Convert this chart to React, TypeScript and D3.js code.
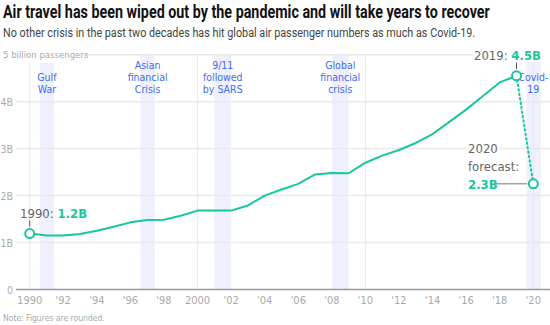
import React, { useRef, useLayoutEffect, useState } from "react";
import * as d3 from "d3";

const years = d3.range(1990, 2020);
const passengers = [1.19, 1.15, 1.15, 1.18, 1.25, 1.335, 1.43, 1.48, 1.485, 1.57, 1.68, 1.68, 1.68, 1.79, 2.0, 2.13, 2.25, 2.45, 2.48, 2.475, 2.7, 2.85, 2.97, 3.12, 3.31, 3.57, 3.83, 4.12, 4.41, 4.55];
const forecastYear = 2020;
const forecastValue = 2.25;
const yTicks = [0, 1, 2, 3, 4];
const xTicks = d3.range(1990, 2021, 2);
const bandStarts = [1990.6, 1996.6, 2001, 2008, 2019.6];
const bandEnds = [1991.45, 1997.45, 2002, 2009, 2020.45];
const bandLabels = [["Gulf", "War"], ["Asian", "financial", "Crisis"], ["9/11", "followed", "by SARS"], ["Global", "financial", "crisis"], ["Covid-", "19"]];
const titleText = "Air travel has been wiped out by the pandemic and will take years to recover";
const subtitleText = "No other crisis in the past two decades has hit global air passenger numbers as much as Covid-19.";

const GREEN = "#16c79d";
const BLUE = "#3f6cf0";
const BAND = "#eef0fd";
const GRID = "#e9e9e9";
const LIGHT = "#a9a9a9";
const FONT = "'Liberation Sans Narrow', 'DejaVu Sans Condensed', Roboto, sans-serif";

const fmtTick = (yr: number) => (yr === 1990 || yr === 2000 ? String(yr) : "'" + String(yr).slice(2));

function FitText({ x, y, width, children, ...rest }: any) {
  const ref = useRef<SVGTextElement>(null);
  const [s, setS] = useState(1);
  useLayoutEffect(() => {
    if (ref.current) {
      const w = ref.current.getComputedTextLength();
      if (w > 0) setS(width / w);
    }
  }, [width]);
  return (
    <text ref={ref} transform={`translate(${x},${y}) scale(${s},1)`} {...rest}>
      {children}
    </text>
  );
}

export default function App() {
  const W = 550, H = 325;
  const x = d3.scaleLinear().domain([1990, 2020]).range([29.7, 533.3]);
  const y = d3.scaleLinear().domain([0, 5]).range([289.5, 54.7]);
  const line = d3.line<number>().x((_, i) => x(years[i])).y((d) => y(d));
  const lastY = years[years.length - 1];
  const lastV = passengers[passengers.length - 1];
  const halo = { stroke: "#fff", strokeWidth: 5, paintOrder: "stroke" as const, strokeLinejoin: "round" as const };

  return (
    <svg width={W} height={H} style={{ position: "absolute", left: 0, top: 0, background: "#fff" }} fontFamily={FONT}>
      {/* title */}
      <FitText x={3} y={18} width={487} fontFamily="Roboto, sans-serif" fontWeight={700} fontSize={17.5} fill="#111">
        {titleText}
      </FitText>
      <FitText x={3} y={36.5} width={473} fontFamily="Roboto, sans-serif" fontSize={13} fill="#444">
        {subtitleText}
      </FitText>

      {/* bands */}
      {bandStarts.map((s, i) => {
        const top = i === 0 ? 63 : i === 4 ? 60 : y(5);
        return <rect key={"b" + i} x={x(s)} width={x(bandEnds[i]) - x(s)} y={top} height={y(0) - top} fill={BAND} />;
      })}

      {/* horizontal grid */}
      {yTicks.filter((t) => t > 0).map((t) => (
        <line key={"g" + t} x1={16} x2={W} y1={y(t)} y2={y(t)} stroke={GRID} strokeWidth={1.5} />
      ))}
      <line x1={83} x2={483} y1={y(5)} y2={y(5)} stroke={GRID} strokeWidth={1.5} />

      {/* vertical grid */}
      {[1990, 2000, 2010, 2020].map((yr) => (
        <line key={"v" + yr} x1={x(yr)} x2={x(yr)} y1={yr === 1990 ? 63 : yr === 2020 ? 60 : y(5)} y2={y(0)} stroke={GRID} strokeWidth={1} />
      ))}

      {/* y labels */}
      {yTicks.map((t) => (
        <text key={"yl" + t} x={13} y={y(t)} dominantBaseline="central" textAnchor="end" fontSize={10.5} fill={LIGHT}>
          {t === 0 ? "0" : t + "B"}
        </text>
      ))}
      <text x={3} y={y(5)} dominantBaseline="central" fontSize={9.5} fill={LIGHT}>5 billion passengers</text>

      {/* x axis */}
      <line x1={16} x2={W} y1={y(0)} y2={y(0)} stroke="#999" strokeWidth={1.5} />
      {xTicks.map((t) => (
        <text key={"xt" + t} x={x(t)} y={300} dominantBaseline="central" textAnchor="middle" fontSize={11} fill={LIGHT}>
          {fmtTick(t)}
        </text>
      ))}

      {/* band labels */}
      {bandLabels.map((lines, i) => (
        <text key={"bl" + i} textAnchor="middle" fontSize={10.5} fontWeight={500} fill={BLUE}>
          {lines.map((ln, j) => (
            <tspan key={j} x={i === 4 ? x(2020) : (x(bandStarts[i]) + x(bandEnds[i])) / 2} y={89 - (lines.length - 1 - j) * 11.8} dominantBaseline="central">
              {ln}
            </tspan>
          ))}
        </text>
      ))}

      {/* main line */}
      <path d={line(passengers) || ""} fill="none" stroke={GREEN} strokeWidth={2} strokeLinejoin="round" />
      <line x1={x(lastY)} y1={y(lastV)} x2={x(forecastYear)} y2={y(forecastValue)} stroke={GREEN} strokeWidth={2} strokeDasharray="1.5 3" strokeLinecap="round" />

      {/* 1990 annotation */}
      <line x1={x(1990)} x2={x(1990)} y1={220.5} y2={226.5} stroke="#555" strokeWidth={1} />
      <text x={20} y={213} dominantBaseline="central" fontSize={13}>
        <tspan fill="#666">1990: </tspan>
        <tspan fill={GREEN} fontWeight={700}>1.2B</tspan>
      </text>
      <circle cx={x(1990)} cy={y(passengers[0])} r={4.5} fill="#fff" stroke={GREEN} strokeWidth={2} />

      {/* 2019 annotation */}
      <line x1={x(lastY)} x2={x(lastY)} y1={61.5} y2={69} stroke="#555" strokeWidth={1} />
      <text x={541} y={54.5} dominantBaseline="central" textAnchor="end" fontSize={13} {...halo}>
        <tspan fill="#666">2019: </tspan>
        <tspan fill={GREEN} fontWeight={700}>4.5B</tspan>
      </text>
      <circle cx={x(lastY)} cy={y(lastV)} r={4.5} fill="#fff" stroke={GREEN} strokeWidth={2} />

      {/* 2020 annotation */}
      <text x={468} fontSize={13} {...halo}>
        <tspan x={468} y={148.3} dominantBaseline="central" fill="#666">2020</tspan>
        <tspan x={468} y={166.7} dominantBaseline="central" fill="#666">forecast:</tspan>
        <tspan x={468} y={184} dominantBaseline="central" fill={GREEN} fontWeight={700}>2.3B</tspan>
      </text>
      <line x1={496} x2={527} y1={y(forecastValue)} y2={y(forecastValue)} stroke="#777" strokeWidth={1} />
      <circle cx={x(forecastYear)} cy={y(forecastValue)} r={4.5} fill="#fff" stroke={GREEN} strokeWidth={2} />

      {/* note */}
      <text x={3} y={317.5} dominantBaseline="central" fontSize={8.5} fill={LIGHT}>Note: Figures are rounded.</text>
    </svg>
  );
}
